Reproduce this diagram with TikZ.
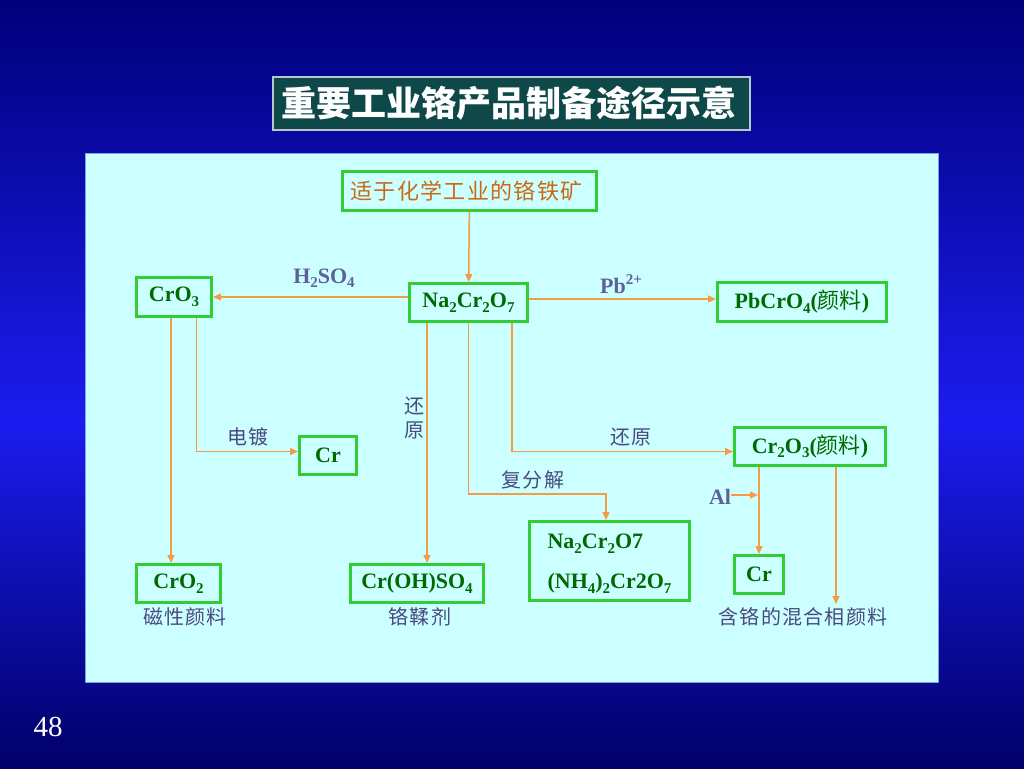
\documentclass[tikz,border=0pt]{standalone}
\usepackage{fontspec}
\setmainfont{Liberation Serif}
\newfontfamily\cjk{Noto Sans CJK SC}
\newfontfamily\cjksp[LetterSpace=6]{Noto Sans CJK SC}
\usetikzlibrary{arrows.meta}
\definecolor{bgdark}{HTML}{00007A}
\definecolor{bgbright}{HTML}{1C1CF0}
\definecolor{bgbottom}{HTML}{000068}
\definecolor{panel}{HTML}{CCFFFF}
\definecolor{panelline}{HTML}{7F9FE8}
\definecolor{titlefill}{HTML}{0E4848}
\definecolor{titleline}{HTML}{B8C8D0}
\definecolor{boxgreen}{HTML}{33CC33}
\definecolor{txtgreen}{HTML}{006A00}
\definecolor{oretxt}{HTML}{CC6A14}
\definecolor{arrorange}{HTML}{F59A45}
\definecolor{lblblue}{HTML}{5F5F99}
\definecolor{lblcjk}{HTML}{4A4A80}
\newcommand\sbs[1]{\raisebox{-0.45ex}{\fontsize{15}{16}\selectfont #1}}
\newcommand\sps[1]{\raisebox{0.9ex}{\fontsize{15}{16}\selectfont #1}}
\tikzset{
  bx/.style={draw=boxgreen, line width=3pt, inner sep=0pt, text=txtgreen,
    font=\bfseries\fontsize{22}{26}\selectfont},
  arr/.style={draw=arrorange, line width=1.5pt, -{Triangle[length=8pt,width=7pt]}},
  lbl/.style={text=lblblue, inner sep=0pt, font=\bfseries\fontsize{22}{26}\selectfont},
  clbl/.style={text=lblcjk, inner sep=0pt, font=\cjksp\fontsize{20}{24}\selectfont},
}
\begin{document}
\begin{tikzpicture}[x=1pt,y=-1pt]
\useasboundingbox (0,0) rectangle (1024,768);
% background
\shade[top color=bgdark, bottom color=bgbright] (0,0) rectangle (1024,420.5);
\shade[top color=bgbright, bottom color=bgbottom] (0,420) rectangle (1024,768);
% panel
\node[draw=panelline, line width=1pt, fill=panel, minimum width=853, minimum height=529, inner sep=0pt] (panelbox) at (511.5,417.5) {};
% title
\node[draw=titleline, line width=1.2pt, fill=titlefill, minimum width=477, minimum height=53, inner sep=0pt,
  text=white, font=\cjk\bfseries\fontsize{35}{40}\selectfont] (title) at (511.5,103.5) {重要工业铬产品制备途径示意\hspace*{6pt}};
% boxes
\node[bx, minimum width=254, minimum height=39, text=oretxt, font=\cjksp\fontsize{22}{24}\selectfont] (ore) at (469.5,191) {\hspace{-6pt}适于化学工业的铬铁矿};
\node[bx, minimum width=118, minimum height=38] (na) at (468.5,302.5) {Na\sbs{2}Cr\sbs{2}O\sbs{7}};
\node[bx, minimum width=75, minimum height=39] (cro3) at (174,297) {CrO\sbs{3}};
\node[bx, minimum width=169, minimum height=39] (pb) at (802,302) {PbCrO\sbs{4}({\cjk\mdseries 颜料})};
\node[bx, minimum width=57, minimum height=38] (crm) at (328,455.5) {Cr};
\node[bx, minimum width=151, minimum height=38] (cr2o3) at (810,446.5) {Cr\sbs{2}O\sbs{3}({\cjk\mdseries 颜料})};
\node[bx, minimum width=160, minimum height=79, align=left] (mix) at (609.5,561) {\rule{0pt}{20pt}Na\sbs{2}Cr\sbs{2}O7\\[14pt](NH\sbs{4})\sbs{2}Cr2O\sbs{7}};
\node[bx, minimum width=49, minimum height=38] (crr) at (759,574.5) {Cr};
\node[bx, minimum width=84, minimum height=38] (cro2) at (178.5,583.5) {CrO\sbs{2}};
\node[bx, minimum width=133, minimum height=38] (croh) at (417,583.5) {Cr(OH)SO\sbs{4}};
% labels
\node[lbl] (h2so4) at (324,278) {H\sbs{2}SO\sbs{4}};
\node[lbl] (pb2) at (621,284) {Pb\sps{2+}};
\node[lbl] (al) at (720,497) {Al};
\node[clbl] (dd) at (248,437) {电镀};
\node[clbl, align=center, font=\cjk\fontsize{20}{24}\selectfont] (hy1) at (414,418) {还\\原};
\node[clbl] (ffj) at (533,480) {复分解};
\node[clbl] (hy2) at (631,437) {还原};
\node[clbl] (cxyl) at (185,617) {磁性颜料};
\node[clbl] (rj) at (420,617) {铬鞣剂};
\node[clbl] (hgl) at (803,617) {含铬的混合相颜料};
% coordinates
\coordinate (j1) at (469,494);
\coordinate (alend) at (758,495);
\coordinate (mixend) at (836,604);
% connectors
\draw[arr] (ore) -- (na);
\draw[arr] (na.west |- cro3.east) -- (cro3.east);
\draw[arr] ([yshift=3.5pt]na.east) -- ([yshift=3.5pt]na.east -| pb.west);
\draw[arr] ([xshift=-3pt]cro3.south) -- ([xshift=-3pt]cro3.south |- cro2.north);
\draw[arr] ([xshift=22.7pt]cro3.south) |- ([yshift=4pt]crm.west);
\draw[arr] ([xshift=-41.5pt]na.south) -- ([xshift=-41.5pt]na.south |- croh.north);
\draw[arr] (na.south) -- (na.south |- j1) -| ([xshift=-3.5pt]mix.north);
\draw[arr] ([xshift=43.5pt]na.south) |- ([yshift=-5pt]cr2o3.west);
\draw[arr] ([xshift=-51pt]cr2o3.south) -- ([xshift=-51pt]cr2o3.south |- crr.north);
\draw[arr] ([xshift=26pt]cr2o3.south) -- ([xshift=26pt]cr2o3.south |- mixend);
\draw[arr] (al.east |- alend) -- (alend);
% page number
\node[text=white, inner sep=0pt, font=\fontsize{29}{32}\selectfont] (pg) at (48,727) {48};
\end{tikzpicture}
\end{document}
